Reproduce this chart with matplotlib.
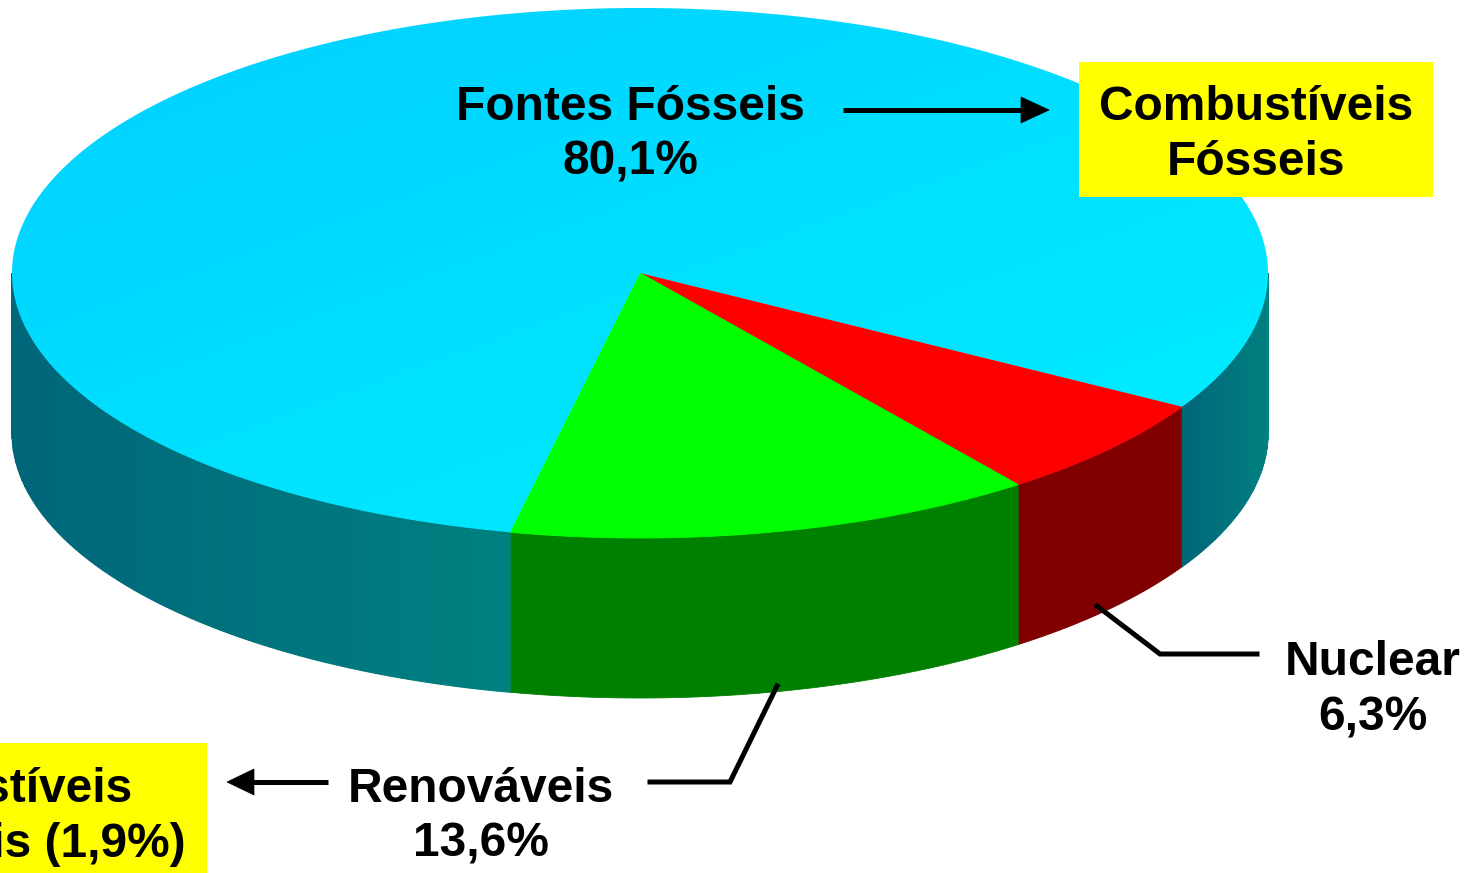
import numpy as np
import matplotlib
matplotlib.use("Agg")
import matplotlib.pyplot as plt
from matplotlib.patches import Polygon, Rectangle
from matplotlib.colors import to_rgb

# ---- data ----
categories = ["Nuclear", "Renováveis", "Fontes Fósseis"]
values = [6.3, 13.6, 80.1]
value_labels = ["6,3%", "13,6%", "80,1%"]
top_colors = ["#FF0000", "#00FF00", None]          # None -> cyan gradient
side_colors = ["#800000", "#008000", None]         # None -> teal gradient
fossil_box = ["Combustíveis", "Fósseis"]
renew_box = ["Combustíveis", "Renováveis (1,9%)"]

# ---- layout ----
W, H = 1477, 873
cx, cy, rx, ry, depth = 640.0, 273.0, 628.0, 265.0, 160.0
start_deg = 30.3
FONT = dict(family="Liberation Sans", weight="bold", size=34.5, color="black")

fig = plt.figure(figsize=(W / 100, H / 100), dpi=100)
ax = fig.add_axes([0, 0, 1, 1])
ax.set_xlim(0, W)
ax.set_ylim(H, 0)
ax.axis("off")


def pt(t):
    return cx + rx * np.cos(t), cy + ry * np.sin(t)


# wedge angles from values
total = sum(values)
bounds = []
a = np.deg2rad(start_deg)
for v in values:
    b = a + 2 * np.pi * v / total
    bounds.append((a, b))
    a = b


def visible_parts(a, b):
    parts = []
    for k in range(-1, 3):
        lo, hi = max(a, 2 * np.pi * k), min(b, 2 * np.pi * k + np.pi)
        if hi > lo:
            parts.append((lo, hi))
    return parts


def side_poly(lo, hi, n=80):
    t = np.linspace(lo, hi, n)
    x, y = pt(t)
    xs = np.concatenate([x, x[::-1]])
    ys = np.concatenate([y, (y + depth)[::-1]])
    return np.column_stack([xs, ys])


dark = np.array(to_rgb("#00667A"))
light = np.array(to_rgb("#008080"))

# ---- sides ----
for (a, b), sc in zip(bounds, side_colors):
    for lo, hi in visible_parts(a, b):
        if sc is not None:
            ax.add_patch(Polygon(side_poly(lo, hi), closed=True, fc=sc, ec=sc, lw=0.6))
        else:
            n = 60
            ts = np.linspace(lo, hi, n + 1)
            xs_all = pt(ts)[0]
            xmin, xmax = xs_all.min(), xs_all.max()
            for i in range(n):
                seg = side_poly(ts[i], ts[i + 1], 4)
                xm = 0.5 * (xs_all[i] + xs_all[i + 1])
                f = (xm - xmin) / (xmax - xmin)
                c = dark + (light - dark) * f
                ax.add_patch(Polygon(seg, closed=True, fc=c, ec=c, lw=0.8))

# ---- tops ----
gy, gx = np.mgrid[0:H:4, 0:W:4]
g = (gx / W) * 0.55 + (gy / H) * 0.9
g = (g - g.min()) / (g.max() - g.min())
c0 = np.array(to_rgb("#00CEFF"))
c1 = np.array(to_rgb("#00FFFF"))
grad = c0[None, None, :] + (c1 - c0)[None, None, :] * g[..., None]

for (a, b), tc in zip(bounds, top_colors):
    t = np.linspace(a, b, 300)
    x, y = pt(t)
    poly = np.column_stack([np.concatenate([[cx], x]), np.concatenate([[cy], y])])
    if tc is not None:
        ax.add_patch(Polygon(poly, closed=True, fc=tc, ec=tc, lw=0.6))
    else:
        p = Polygon(poly, closed=True, fc="none", ec="none")
        ax.add_patch(p)
        im = ax.imshow(grad, extent=(0, W, H, 0), origin="upper", interpolation="bilinear", zorder=1)
        im.set_clip_path(p)

ax.set_xlim(0, W)
ax.set_ylim(H, 0)

LW = 3.6
# ---- labels ----
ax.text(630, 120, categories[2], ha="center", va="baseline", **FONT, zorder=5)
ax.text(630, 175, value_labels[2], ha="center", va="baseline", **FONT, zorder=5)

ax.plot([843, 1024], [110, 110], color="black", lw=LW, solid_capstyle="butt", zorder=5)
ax.add_patch(Polygon([[1021, 97], [1049, 110], [1021, 123]], closed=True, fc="black", ec="black", lw=0.5, zorder=5))

ax.add_patch(Rectangle((1079, 62), 354, 135, fc="#FFFF00", ec="none", zorder=4))
ax.text(1256, 120, fossil_box[0], ha="center", va="baseline", **FONT, zorder=5)
ax.text(1256, 175, fossil_box[1], ha="center", va="baseline", **FONT, zorder=5)

# Nuclear
ax.plot([1097, 1160, 1257], [606, 654, 654], color="black", lw=LW, solid_joinstyle="miter", zorder=5)
ax.text(1373, 675, categories[0], ha="center", va="baseline", **FONT, zorder=5)
ax.text(1373, 730, value_labels[0], ha="center", va="baseline", **FONT, zorder=5)

# Renováveis
ax.plot([777, 730, 650], [686, 782, 782], color="black", lw=LW, solid_joinstyle="miter", zorder=5)
ax.text(481, 802, categories[1], ha="center", va="baseline", **FONT, zorder=5)
ax.text(481, 857, value_labels[1], ha="center", va="baseline", **FONT, zorder=5)

ax.plot([328, 250], [782, 782], color="black", lw=LW, solid_capstyle="butt", zorder=5)
ax.add_patch(Polygon([[254, 769], [227, 782], [254, 795]], closed=True, fc="black", ec="black", lw=0.5, zorder=5))

# box partly outside the picture, as in the reference
ax.add_patch(Rectangle((-262, 743), 469, 200, fc="#FFFF00", ec="none", zorder=4))
ax.text(-25, 802, renew_box[0], ha="center", va="baseline", **FONT, zorder=5)
ax.text(-25, 857, renew_box[1], ha="center", va="baseline", **FONT, zorder=5)

fig.savefig("out.png", dpi=100)
